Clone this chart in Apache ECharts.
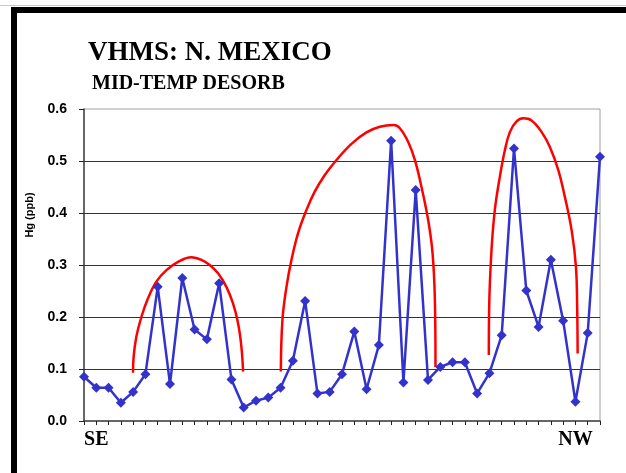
<!DOCTYPE html>
<html>
<head>
<meta charset="utf-8">
<script src="https://cdn.jsdelivr.net/npm/echarts@6/dist/echarts.min.js"></script>
<style>
  html, body { margin: 0; padding: 0; background: #fff; }
  #chart { width: 626px; height: 473px; }
</style>
</head>
<body>
<div id="chart"></div>
<script>
// Sample stations along the traverse, SE to NW
const xTickLabels = ['', 'SE', '', '', '', '', '', '', '', '', '', '', '', '', '', '', '', '', '', '', '', '',
  '', '', '', '', '', '', '', '', '', '', '', '', '', '', '', '', '', '', 'NW', '', ''];

// Hg, mid-temperature desorption (ppb)
const hgValues = [0.085, 0.064, 0.064, 0.035, 0.056, 0.090, 0.258, 0.071, 0.275, 0.176, 0.157, 0.265, 0.080,
  0.026, 0.039, 0.045, 0.064, 0.116, 0.231, 0.053, 0.056, 0.090, 0.172, 0.061, 0.146, 0.539, 0.074, 0.444,
  0.079, 0.104, 0.113, 0.113, 0.053, 0.092, 0.165, 0.524, 0.251, 0.181, 0.310, 0.193, 0.037, 0.169, 0.508];

const yTicks = [0, 0.1, 0.2, 0.3, 0.4, 0.5, 0.6];

// Anomaly envelopes: [station position, Hg]
const arcSE = [[3.99, 0.093], [4.04, 0.124], [4.26, 0.162], [4.67, 0.200], [5.21, 0.236], [5.89, 0.268],
  [6.71, 0.290], [7.65, 0.306], [8.74, 0.315], [9.56, 0.310], [10.23, 0.300], [10.91, 0.284], [11.59, 0.258],
  [12.13, 0.226], [12.54, 0.188], [12.81, 0.143], [12.95, 0.095]];
const arcMid = [[16.02, 0.095], [16.15, 0.194], [16.48, 0.258], [16.89, 0.310], [17.42, 0.361], [18.11, 0.406],
  [18.78, 0.441], [19.60, 0.473], [20.55, 0.502], [21.77, 0.533], [22.99, 0.555], [24.08, 0.566], [25.22, 0.569],
  [25.71, 0.563], [26.38, 0.537], [26.93, 0.502], [27.47, 0.450], [28.01, 0.387], [28.37, 0.323], [28.56, 0.233],
  [28.61, 0.104]];
const arcNW = [[32.95, 0.127], [32.98, 0.220], [33.17, 0.329], [33.44, 0.406], [33.85, 0.470], [34.26, 0.521],
  [34.67, 0.556], [35.21, 0.576], [35.75, 0.582], [36.43, 0.578], [37.24, 0.556], [37.92, 0.527], [38.60, 0.483],
  [39.14, 0.431], [39.69, 0.367], [40.04, 0.297], [40.14, 0.220], [40.18, 0.130]];

const chart = echarts.init(document.getElementById('chart'), null, { renderer: 'canvas' });

const serif = '"Liberation Serif", "Times New Roman", serif';
const sans = '"Liberation Sans", Arial, sans-serif';

function envelope(data) {
  return {
    type: 'line',
    xAxisIndex: 1,
    data: data,
    smooth: 0.4,
    showSymbol: false,
    silent: true,
    lineStyle: { color: '#FF0000', width: 2.5 },
    z: 2
  };
}

chart.setOption({
  animation: false,
  backgroundColor: '#fff',
  title: [
    {
      text: 'VHMS: N. MEXICO', left: 88, top: 40, padding: 0,
      textStyle: { fontFamily: serif, fontWeight: 'bold', fontSize: 27, color: '#000' }
    },
    {
      text: 'MID-TEMP DESORB', left: 92, top: 74, padding: 0,
      textStyle: { fontFamily: serif, fontWeight: 'bold', fontSize: 20, color: '#000' }
    }
  ],
  graphic: [
    { type: 'rect', shape: { x: 0, y: 5, width: 626, height: 1 }, style: { fill: '#c8c8c8' } },
    { type: 'rect', shape: { x: 11, y: 7, width: 615, height: 6 }, style: { fill: '#000' } },
    { type: 'rect', shape: { x: 11, y: 7, width: 6, height: 466 }, style: { fill: '#000' } },
    {
      type: 'text', x: 30, y: 215, rotation: Math.PI / 2,
      style: {
        text: 'Hg (ppb)', fill: '#000', font: 'bold 11px ' + sans,
        textAlign: 'center', textVerticalAlign: 'middle'
      }
    }
  ],
  grid: {
    left: 84, right: 26, top: 109, bottom: 52,
    show: true, borderColor: '#a0a0a0', borderWidth: 1, backgroundColor: 'transparent'
  },
  xAxis: [
    {
      type: 'category',
      data: xTickLabels.map((_, i) => String(i)),
      boundaryGap: false,
      axisLine: { lineStyle: { color: '#444', width: 1.5 } },
      axisTick: { show: true, interval: 0, length: 4, lineStyle: { color: '#222' } },
      axisLabel: {
        interval: 0, margin: 9,
        formatter: (v, i) => xTickLabels[i],
        fontFamily: serif, fontWeight: 'bold', fontSize: 20, color: '#000'
      },
      splitLine: { show: false }
    },
    {
      type: 'value', min: 0, max: xTickLabels.length - 1, show: false
    }
  ],
  yAxis: {
    type: 'value',
    min: yTicks[0], max: yTicks[yTicks.length - 1], interval: 0.1,
    axisLine: { show: true, lineStyle: { color: '#444', width: 1.5 } },
    axisTick: { show: true, length: 5, lineStyle: { color: '#222' } },
    axisLabel: {
      margin: 17,
      formatter: v => v.toFixed(1),
      fontFamily: sans, fontWeight: 'bold', fontSize: 14, color: '#000'
    },
    splitLine: { show: true, showMinLine: false, showMaxLine: false, lineStyle: { color: '#333', width: 1 } }
  },
  series: [
    envelope(arcSE),
    envelope(arcMid),
    envelope(arcNW),
    {
      type: 'line',
      data: hgValues,
      symbol: 'diamond',
      symbolSize: 10,
      itemStyle: { color: '#3333CC' },
      lineStyle: { color: '#3333CC', width: 2.5 },
      z: 3
    }
  ]
});
</script>
</body>
</html>
